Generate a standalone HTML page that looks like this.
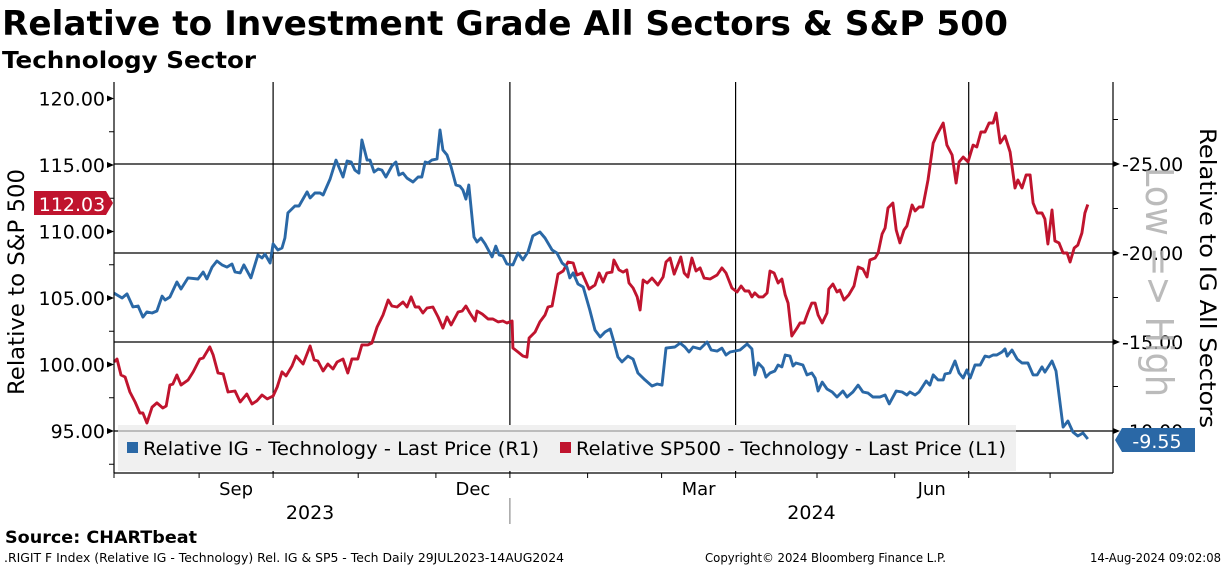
<!DOCTYPE html>
<html><head><meta charset="utf-8">
<style>
html,body{margin:0;padding:0;background:#fff;width:1224px;height:566px;overflow:hidden}
svg{display:block;font-family:"DejaVu Sans","Liberation Sans",sans-serif}
</style></head>
<body>
<svg id="chart" width="1224" height="566" viewBox="0 0 1224 566">
<text x="2" y="35" font-size="34" font-weight="bold" textLength="1006" lengthAdjust="spacingAndGlyphs">Relative to Investment Grade All Sectors &amp; S&amp;P 500</text>
<text x="2" y="68" font-size="23" font-weight="bold" textLength="254" lengthAdjust="spacingAndGlyphs">Technology Sector</text>
<g id="grid"></g>
<rect x="118" y="425" width="898" height="46" fill="#f0f0f0"/>
<line x1="118" x2="1016" y1="431" y2="431" stroke="#888" stroke-width="1"/>
<g id="series"></g>
<g id="axes"></g>
<text transform="translate(24,282) rotate(-90)" text-anchor="middle" font-size="22" textLength="226" lengthAdjust="spacingAndGlyphs">Relative to S&amp;P 500</text>
<text transform="translate(1200,278) rotate(90)" text-anchor="middle" font-size="22" textLength="300" lengthAdjust="spacingAndGlyphs">Relative to IG All Sectors</text>
<text transform="translate(1146,282) rotate(90)" text-anchor="middle" font-size="38" fill="#aaaaaa" fill-opacity="0.8" textLength="230" lengthAdjust="spacingAndGlyphs">Low =&gt; High</text>
<g>
<rect x="127" y="442" width="11" height="11" fill="#2a68a6"/>
<text x="143" y="455" font-size="19" textLength="396" lengthAdjust="spacingAndGlyphs">Relative IG - Technology - Last Price (R1)</text>
<rect x="560" y="442" width="11" height="11" fill="#c0142e"/>
<text x="576" y="455" font-size="19" textLength="430" lengthAdjust="spacingAndGlyphs">Relative SP500 - Technology - Last Price (L1)</text>
</g>
<g>
<path d="M34,191 H106 L113,203 L106,215 H34 Z" fill="#c0142e"/>
<text x="72" y="211" font-size="19" fill="#fff" text-anchor="middle">112.03</text>
</g>
<g>
<path d="M1122,428 H1195 V452 H1122 L1115,440 Z" fill="#2a68a6"/>
<text x="1157" y="448" font-size="19" fill="#fff" text-anchor="middle">-9.55</text>
</g>
<text x="5" y="543" font-size="17" font-weight="bold" textLength="192" lengthAdjust="spacingAndGlyphs">Source: CHARTbeat</text>
<text x="4" y="562" font-size="12" textLength="560" lengthAdjust="spacingAndGlyphs">.RIGIT F Index (Relative IG - Technology) Rel. IG &amp; SP5 - Tech  Daily 29JUL2023-14AUG2024</text>
<text x="705" y="562" font-size="12" textLength="241" lengthAdjust="spacingAndGlyphs">Copyright© 2024 Bloomberg Finance L.P.</text>
<text x="1090" y="562" font-size="12" textLength="131" lengthAdjust="spacingAndGlyphs">14-Aug-2024 09:02:08</text>
</svg>
<script>
const blueDays=[0,2.2,3.5,5.1,6.5,7.8,8.9,10.3,11.6,13.0,13.8,15.1,17.0,18.1,20.0,22.7,24.1,25.1,26.5,27.8,29.2,30.5,31.9,32.7,34.1,35.1,37.0,38.9,40.0,40.8,42.2,43.0,44.3,45.4,46.2,47.0,48.9,50.0,52.2,53.0,54.3,55.7,56.5,58.4,60.0,61.9,63.0,64.1,65.1,66.2,67.0,68.4,69.2,70.3,71.4,72.4,73.5,75.1,76.2,77.0,78.1,79.2,80.8,82.2,83.2,84.1,84.9,85.9,87.3,88.1,88.9,90.0,91.1,92.4,93.5,94.3,95.1,95.9,97.3,98.1,99.2,100.3,102.2,103.2,104.1,105.1,106.2,107.8,109.2,110.5,111.9,113.2,115.1,116.5,118.4,119.7,121.1,122.4,123.2,124.1,125.4,126.8,128.6,130.0,131.4,132.7,134.1,134.9,136.2,137.3,138.9,140.3,141.6,143.5,145.4,146.8,148.1,149.2,151.6,153.0,154.3,155.4,156.5,158.4,160.3,161.4,163.0,164.3,165.4,166.5,169.2,171.1,172.4,173.2,174.1,175.4,176.2,177.3,178.6,179.5,180.5,181.4,182.7,183.5,184.3,186.2,187.3,188.6,189.5,190.3,191.4,192.7,194.1,195.4,197.0,198.1,199.7,201.1,202.4,203.8,205.1,207.0,208.4,209.5,211.4,213.0,214.3,215.1,216.5,217.6,219.5,220.5,221.4,222.7,224.1,224.6,225.9,227.3,228.4,229.5,230.5,231.4,232.7,234.1,235.4,236.5,237.6,238.6,240.0,240.8,241.4,242.7,244.1,245.4,247.0,248.4,249.5,250.8,251.6,253.5,254.6,256.5,257.8,259.2,260.5,261.9,263.2];
const blueValues=[-17.75,-17.47,-17.70,-16.97,-17.02,-16.40,-16.69,-16.63,-16.74,-17.58,-17.36,-17.53,-18.37,-17.98,-18.60,-18.54,-18.93,-18.54,-19.21,-19.55,-19.33,-19.21,-19.38,-18.93,-18.88,-19.33,-18.60,-19.89,-19.72,-19.94,-19.44,-20.51,-20.17,-20.28,-20.84,-22.25,-22.64,-22.64,-23.43,-23.09,-23.37,-23.37,-23.26,-24.16,-25.22,-24.27,-25.17,-25.11,-24.66,-24.49,-26.35,-25.22,-25.22,-24.55,-24.72,-24.66,-24.27,-24.89,-25.11,-24.38,-24.49,-24.21,-23.99,-24.27,-24.27,-25.11,-25.06,-25.22,-25.28,-26.91,-25.79,-25.51,-24.83,-23.82,-23.76,-23.54,-23.03,-23.82,-20.90,-20.62,-20.84,-20.51,-19.78,-20.39,-19.89,-19.83,-19.38,-19.33,-20.00,-19.61,-20.06,-20.96,-21.18,-20.84,-20.17,-20.00,-19.44,-19.21,-18.60,-18.88,-18.26,-18.09,-16.80,-15.67,-15.28,-15.56,-15.73,-15.17,-14.16,-13.88,-14.21,-14.04,-13.26,-12.87,-12.53,-12.64,-12.58,-14.66,-14.72,-14.94,-14.72,-14.44,-14.72,-14.61,-15.00,-14.55,-14.49,-14.66,-14.27,-14.44,-14.55,-14.89,-14.61,-13.15,-13.82,-13.54,-13.03,-13.26,-13.37,-13.71,-13.60,-14.27,-14.21,-13.65,-13.82,-13.71,-13.15,-13.26,-12.98,-12.25,-12.75,-12.36,-12.19,-11.91,-12.25,-11.91,-12.19,-12.58,-12.19,-12.13,-11.91,-11.91,-12.02,-11.52,-12.25,-12.19,-12.02,-12.19,-12.02,-12.19,-12.81,-12.58,-13.15,-12.87,-12.87,-13.20,-13.26,-13.93,-13.26,-12.98,-13.43,-12.98,-13.71,-13.71,-14.21,-14.16,-14.27,-14.27,-14.44,-14.61,-14.21,-14.55,-14.04,-13.82,-13.82,-13.15,-13.15,-13.60,-13.31,-13.93,-13.37,-10.22,-10.56,-9.94,-9.72,-9.89,-9.55];
const redDays=[0,0.8,1.9,3.0,4.3,5.7,7.0,7.8,8.9,10.3,11.6,13.2,14.1,15.1,15.9,17.0,18.1,20.0,21.4,23.2,24.1,25.9,26.8,28.1,29.5,30.8,32.7,34.1,35.9,37.3,38.6,40.0,41.4,43.0,44.1,45.4,46.5,48.1,49.2,51.1,53.0,54.1,55.1,56.5,57.8,59.2,60.3,61.9,63.2,64.3,65.9,67.0,68.6,69.7,71.1,72.7,74.1,75.1,76.5,78.1,79.2,80.3,81.4,82.4,83.5,84.6,86.2,87.6,88.9,90.0,91.1,93.0,94.1,95.1,96.2,97.6,98.1,99.5,101.1,102.4,103.8,105.1,106.2,107.6,107.8,109.2,110.5,111.6,112.2,113.8,115.1,116.5,117.3,118.4,120.0,121.4,122.7,124.1,125.1,126.5,128.4,130.0,131.1,132.2,133.2,134.6,135.1,136.5,137.6,138.6,139.2,140.3,141.4,142.2,143.0,144.1,145.4,147.0,148.4,149.2,150.3,151.4,153.2,154.1,155.1,156.2,157.3,158.4,159.5,161.1,163.0,164.3,165.4,167.0,168.4,169.5,170.5,171.6,172.4,173.2,174.3,175.4,176.5,177.3,178.4,179.5,180.5,181.4,182.2,183.2,184.6,185.4,186.5,187.6,188.6,189.5,190.3,191.4,192.7,193.2,194.3,195.4,196.2,197.3,198.6,200.0,201.1,202.4,203.5,204.3,205.7,206.5,207.6,208.4,209.2,210.5,211.4,212.4,213.5,214.3,215.7,216.5,217.6,218.6,220.0,221.4,222.4,224.1,225.1,226.5,227.6,228.4,229.5,230.8,232.2,233.2,234.3,235.4,236.5,237.6,238.4,239.5,240.8,242.2,243.5,244.3,245.4,246.5,247.6,248.4,249.5,250.8,251.6,252.4,253.5,254.3,255.4,256.5,257.6,258.4,259.5,260.5,261.6,262.4,263.2];
const redValues=[100.19,100.41,99.21,99.06,97.93,97.18,96.35,96.35,95.60,96.80,97.11,96.73,96.88,98.46,98.53,99.21,98.46,98.83,99.44,100.41,100.49,101.32,100.71,99.36,99.29,97.93,98.01,97.18,97.78,97.03,97.26,97.71,97.41,97.63,98.31,99.44,99.14,99.89,100.64,100.04,101.39,100.34,100.26,99.51,100.04,99.66,100.19,100.41,99.36,100.41,100.41,101.47,101.47,101.62,102.82,103.72,104.85,104.40,104.32,104.70,104.32,105.08,104.32,104.32,103.87,104.25,104.32,103.57,102.74,103.57,102.97,103.95,104.02,104.40,103.87,103.27,104.02,103.80,103.42,103.42,103.20,103.27,103.12,103.27,101.24,100.94,100.64,100.56,101.99,102.44,103.20,103.72,104.32,104.40,106.80,107.03,107.71,107.63,106.73,106.88,105.68,105.98,106.88,106.20,106.88,106.95,107.86,107.11,106.95,107.11,106.13,105.75,105.08,104.10,106.35,106.13,106.50,105.98,106.58,107.71,108.01,106.80,108.08,106.88,106.58,108.01,107.03,107.26,106.50,106.43,106.73,107.26,106.88,105.75,105.45,105.90,105.53,105.53,105.08,105.38,105.08,105.08,105.38,107.03,106.88,106.13,106.43,105.23,104.62,102.14,102.74,103.12,103.12,103.95,104.62,104.62,103.72,103.12,103.87,105.68,106.05,105.45,105.60,104.85,105.23,105.90,107.33,107.18,106.58,107.86,108.01,108.38,109.81,110.26,111.77,112.14,110.11,109.14,110.11,110.41,111.99,111.54,111.84,111.84,113.87,116.65,117.26,118.16,116.50,115.75,113.65,115.23,115.60,115.23,116.50,116.35,117.48,117.48,118.16,118.16,118.91,116.65,117.18,115.98,113.27,113.87,113.27,114.25,114.25,112.14,111.39,111.39,110.94,109.06,111.62,109.29,109.14,108.38,108.38,107.71,108.76,108.98,109.89,111.39,112.03];
const leftTicks=[95,100,105,110,115,120];
const leftTickLabels=["95.00","100.00","105.00","110.00","115.00","120.00"];
const rightTicks=[-25,-20,-15,-10];
const rightTickLabels=["-25.00","-20.00","-15.00","-10.00"];
const monthTickDays=[0,23,43,66,87,107,128,148,168,190,211,231,253];
const monthLabelDays=[33,97,158,221];
const monthLabels=["Sep","Dec","Mar","Jun"];
const gridDays=[43,107,168,231];
const yearLabelDays=[53,188.5];
const yearLabels=["2023","2024"];

const NS="http://www.w3.org/2000/svg";
const PL=114,PR=1113,PT=82,PB=473;
function xScale(d){return PL+d*3.7;}
function yLeft(v){return 165+(115-v)*13.3;}
function yRight(v){return 164+(v+25)*17.8;}
function mk(tag,attrs,parent){const e=document.createElementNS(NS,tag);for(const k in attrs)e.setAttribute(k,attrs[k]);parent.appendChild(e);return e;}
const grid=document.getElementById('grid'),axes=document.getElementById('axes'),series=document.getElementById('series');

rightTicks.forEach(v=>{
  const g=mk('line',{x1:PL,x2:PR,y1:yRight(v),y2:yRight(v),stroke:'#000','stroke-width':1.2},grid);
  
  
});
gridDays.forEach(d=>{
  const g=mk('line',{x1:xScale(d),x2:xScale(d),y1:PT,y2:PB,stroke:'#000','stroke-width':1.2},grid);
  
  
});

function drawLine(days,vals,ys,color,name){
  const pts=days.map((d,i)=>xScale(d).toFixed(1)+','+ys(vals[i]).toFixed(1)).join(' ');
  const p=mk('polyline',{points:pts,fill:'none',stroke:color,'stroke-width':2.9,'stroke-linejoin':'round'},series);
  
  
}
drawLine(redDays,redValues,yLeft,'#c0142e','line-sp500-relative');
drawLine(blueDays,blueValues,yRight,'#2a68a6','line-ig-relative');

mk('line',{x1:PL,x2:PL,y1:PT,y2:PB,stroke:'#000','stroke-width':1.2},axes);
mk('line',{x1:PR,x2:PR,y1:PT,y2:PB,stroke:'#000','stroke-width':1.2},axes);
mk('line',{x1:PL,x2:PR,y1:PB,y2:PB,stroke:'#000','stroke-width':1.2},axes);

leftTicks.forEach((v,i)=>{
  const y=yLeft(v);
  mk('path',{d:`M${PL-7},${y-3} L${PL},${y} L${PL-7},${y+3} Z`,fill:'#000'},axes);
  mk('line',{x1:PL-5,x2:PL,y1:yLeft(v+2.5),y2:yLeft(v+2.5),stroke:'#000'},axes);
  if(i===0) mk('line',{x1:PL-5,x2:PL,y1:yLeft(v-2.5),y2:yLeft(v-2.5),stroke:'#000'},axes);
  const t=mk('text',{x:PL-9,y:y+7,'text-anchor':'end','font-size':19},axes);
  t.textContent=leftTickLabels[i];
  
  
});
rightTicks.forEach((v,i)=>{
  const y=yRight(v);
  mk('path',{d:`M${PR},${y-3} L${PR+7},${y} L${PR},${y+3} Z`,fill:'#000'},axes);
  mk('line',{x1:PR,x2:PR+5,y1:yRight(v-2.5),y2:yRight(v-2.5),stroke:'#000'},axes);
  const t=mk('text',{x:PR+9,y:y+7,'font-size':19},axes);
  t.textContent=rightTickLabels[i];
  
  
});
mk('line',{x1:PR,x2:PR+5,y1:yRight(-10),y2:yRight(-10),stroke:'#000'},axes);
monthTickDays.forEach(d=>{
  mk('line',{x1:xScale(d),x2:xScale(d),y1:PB,y2:PB+5,stroke:'#000'},axes);
});
monthLabelDays.forEach((d,i)=>{
  const t=mk('text',{x:xScale(d),y:495,'text-anchor':'middle','font-size':18},axes);
  t.textContent=monthLabels[i];
  
  
});
yearLabelDays.forEach((d,i)=>{
  const t=mk('text',{x:xScale(d),y:519,'text-anchor':'middle','font-size':19},axes);
  t.textContent=yearLabels[i];
  
  
});
mk('line',{x1:xScale(107),x2:xScale(107),y1:498,y2:524,stroke:'#777'},axes);
</script>
</body></html>
